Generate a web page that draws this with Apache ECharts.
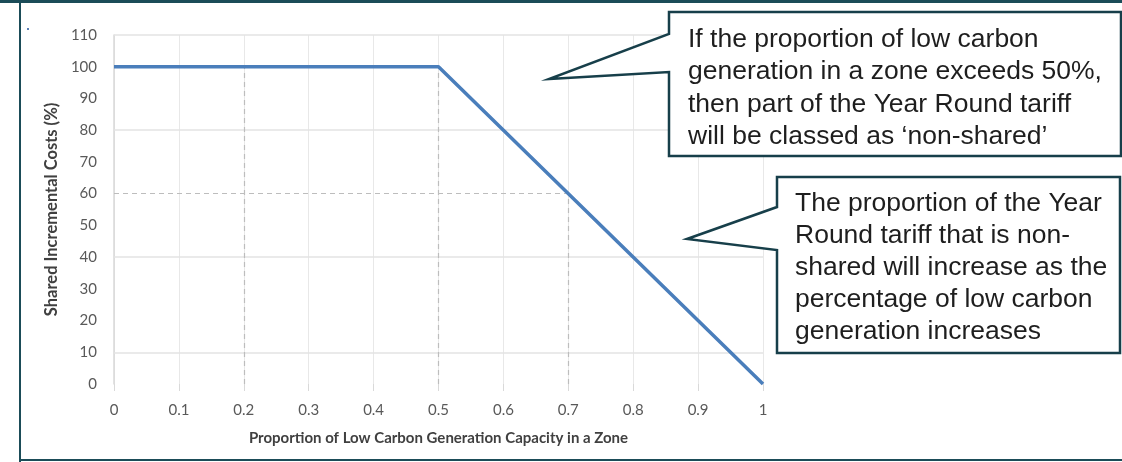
<!DOCTYPE html>
<html>
<head>
<meta charset="utf-8">
<script src="https://cdn.jsdelivr.net/npm/echarts@6/dist/echarts.min.js"></script>
<style>
  html, body { margin: 0; padding: 0; background: #ffffff; }
  #chart { width: 1122px; height: 462px; }
</style>
</head>
<body>
<div id="chart"></div>
<script>
// Share of incremental costs treated as shared, by low-carbon generation proportion
const lowCarbonShare = [0, 0.5, 1];
const sharedCostPct = [100, 100, 0];

// Axis tick labels
const xTickLabels = ['0', '0.1', '0.2', '0.3', '0.4', '0.5', '0.6', '0.7', '0.8', '0.9', '1'];
const yTickLabels = ['0', '10', '20', '30', '40', '50', '60', '70', '80', '90', '100', '110'];

// Reference guide points (dashed drop lines)
const guideX = [0.2, 0.5, 0.7];
const guideY = [100, 100, 60];

// Horizontal grid values that are drawn
const gridValues = [10, 40, 80, 110];

const xAxisTitle = 'Proportion of Low Carbon Generation Capacity in a Zone';
const yAxisTitle = 'Shared Incremental Costs (%)';

const calloutTop = [
  'If the proportion of low carbon',
  'generation in a zone exceeds 50%,',
  'then part of the Year Round tariff',
  'will be classed as \u2018non-shared\u2019'
];
const calloutBottom = [
  'The proportion of the Year',
  'Round tariff that is non-',
  'shared will increase as the',
  'percentage of low carbon',
  'generation increases'
];

const chart = echarts.init(document.getElementById('chart'), null, { renderer: 'canvas' });

const seriesData = lowCarbonShare.map((x, i) => [x, sharedCostPct[i]]);

// Drop lines from guide points to the axes
const dropLines = guideX.map((x, i) => [
  { coord: [x, 0] },
  { coord: [x, guideY[i]] }
]);
dropLines.push([{ coord: [0, guideY[2]] }, { coord: [guideX[2], guideY[2]] }]);

const gridLines = gridValues.map(v => [{ coord: [0, v] }, { coord: [1, v] }]);

const BORDER = '#1b4c58';
const calloutStyle = { fill: '#ffffff', stroke: '#173f4a', lineWidth: 2.5, lineJoin: 'miter' };

chart.setOption({
  animation: false,
  backgroundColor: '#ffffff',
  grid: { left: 114, right: 359, top: 35, bottom: 78, containLabel: false },
  xAxis: {
    type: 'value',
    min: 0, max: 1, interval: 0.1,
    name: xAxisTitle,
    nameLocation: 'middle',
    nameGap: 47,
    nameTextStyle: { fontFamily: 'Lato', fontWeight: 'bold', fontSize: 15, color: '#404040' },
    axisLine: { show: false },
    axisTick: { show: true, length: 7, lineStyle: { color: '#d9d9d9' } },
    axisLabel: {
      margin: 19, fontFamily: 'Lato', fontSize: 15, color: '#595959',
      formatter: (v) => xTickLabels[Math.round(v * 10)]
    },
    splitLine: { show: true, lineStyle: { color: '#e8e8e8', width: 1 } }
  },
  yAxis: {
    type: 'value',
    min: 0, max: 110, interval: 10,
    name: yAxisTitle,
    nameLocation: 'middle',
    nameGap: 53,
    nameRotate: 90,
    nameTextStyle: { fontFamily: 'Lato', fontWeight: 'bold', fontSize: 16.5, color: '#404040' },
    axisLine: { show: true, lineStyle: { color: '#d9d9d9', width: 1.5 } },
    axisTick: { show: false },
    axisLabel: {
      margin: 17, fontFamily: 'Lato', fontSize: 15, color: '#595959',
      formatter: (v) => yTickLabels[Math.round(v / 10)]
    },
    splitLine: { show: false }
  },
  series: [
    {
      type: 'line',
      data: seriesData,
      symbol: 'none',
      z: 5,
      lineStyle: { color: '#4a7ebb', width: 3.5 },
      markLine: {
        silent: true,
        symbol: ['none', 'none'],
        label: { show: false },
        lineStyle: { color: '#e3e3e3', type: 'solid', width: 1.5 },
        data: gridLines,
        z: 1
      }
    },
    {
      type: 'line',
      data: [],
      markLine: {
        silent: true,
        symbol: ['none', 'none'],
        label: { show: false },
        lineStyle: { color: '#bdbdbd', type: [5, 4], width: 1.2 },
        data: dropLines
      }
    }
  ],
  graphic: [
    // frame
    { type: 'rect', shape: { x: 0, y: 0, width: 1122, height: 3 }, style: { fill: BORDER }, z: 100 },
    { type: 'rect', shape: { x: 19, y: 0, width: 2, height: 462 }, style: { fill: BORDER }, z: 100 },
    { type: 'rect', shape: { x: 19, y: 459, width: 1103, height: 2 }, style: { fill: BORDER }, z: 100 },
    { type: 'rect', shape: { x: 27, y: 28, width: 2, height: 2 }, style: { fill: '#5b7fb5' }, z: 100 },
    // upper callout
    {
      type: 'polygon', z: 100,
      shape: { points: [[669, 12], [1121, 12], [1121, 156], [669, 156], [669, 72], [549, 79], [669, 34]] },
      style: calloutStyle
    },
    {
      type: 'text', z: 101, left: 688, top: 23,
      style: {
        text: calloutTop.join('\n'),
        font: '26.5px "Liberation Sans", Arial, sans-serif',
        fill: '#1e1e1e', lineHeight: 32.5
      }
    },
    // lower callout
    {
      type: 'polygon', z: 100,
      shape: { points: [[777, 177], [1120, 177], [1120, 353], [777, 353], [777, 250], [687, 239], [777, 207]] },
      style: calloutStyle
    },
    {
      type: 'text', z: 101, left: 795, top: 188,
      style: {
        text: calloutBottom.join('\n'),
        font: '26.5px "Liberation Sans", Arial, sans-serif',
        fill: '#1e1e1e', lineHeight: 32
      }
    }
  ]
});
</script>
</body>
</html>
